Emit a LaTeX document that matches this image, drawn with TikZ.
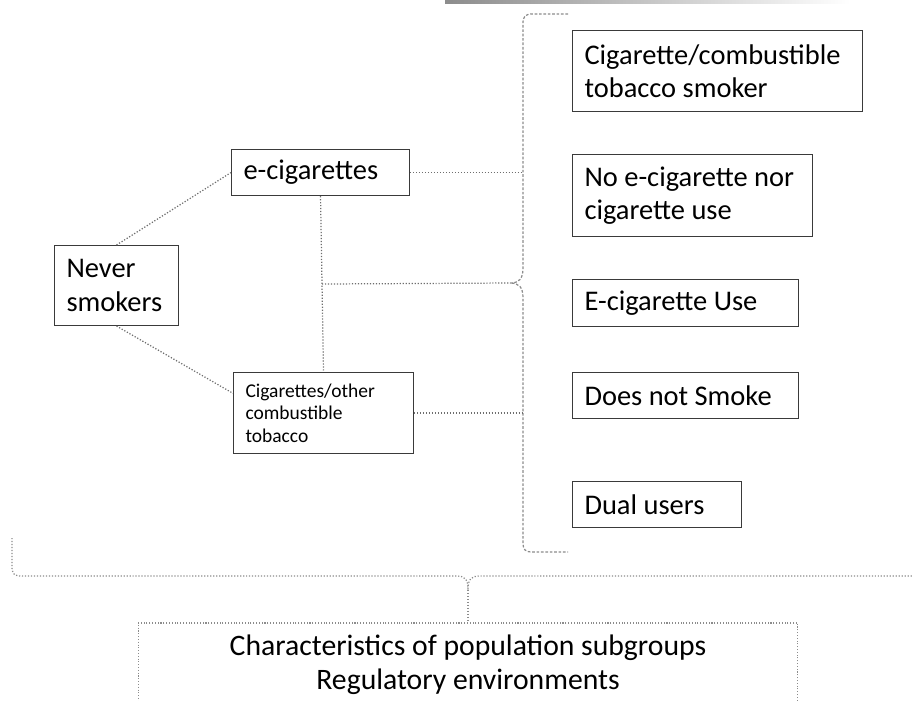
\documentclass[tikz,border=0pt]{standalone}
\usepackage{fontspec}
\setmainfont{Carlito}
\usetikzlibrary{calc}
\definecolor{linkgray}{HTML}{6E6E6E}
\definecolor{bracegray}{HTML}{8C8C8C}
\definecolor{boxline}{HTML}{3A3A3A}

\begin{document}
\begin{tikzpicture}[x=0.02cm,y=-0.02cm,
  catbox/.style={draw=boxline,line width=0.6pt,anchor=north west,align=flush left,
    inner xsep=0.24cm,inner ysep=0pt,font=\fontsize{16.2}{19}\selectfont},
  botbox/.style={draw=bracegray,densely dotted,line width=0.6pt,align=flush center,
    minimum width=13.2cm,minimum height=1.68cm,font=\fontsize{16.9}{19.3}\selectfont},
  link/.style={draw=linkgray,densely dotted,line width=0.7pt},
  bracket/.style={draw=bracegray,line width=0.7pt,dash pattern=on 1.5pt off 1pt}]
\useasboundingbox (0,0) rectangle (912,700);
\clip (0,0) rectangle (912,700);
% faded rule along the top edge
\shade[left color=black!45,right color=white] (445,0) rectangle (850,3);

% left side
\node[catbox,text width=2cm,minimum height=1.6cm] (never) at (54,245) {Never\\smokers};
\node[catbox,text width=3.08cm,minimum height=0.92cm] (ecig) at (231,149) {e-cigarettes};
\node[catbox,text width=3.12cm,minimum height=1.62cm,font=\fontsize{11.1}{12.8}\selectfont]
  (combust) at (233,372) {Cigarettes/other\\combustible\\tobacco};

% outcomes
\node[catbox,text width=5.32cm,minimum height=1.62cm] (smoker) at (572,30) {Cigarette/combustible\\tobacco smoker};
\node[catbox,text width=4.32cm,minimum height=1.64cm] (nouse) at (572,154) {No e-cigarette nor\\cigarette use};
\node[catbox,text width=4.04cm,minimum height=0.94cm] (ecuse) at (572,279) {E-cigarette Use};
\node[catbox,text width=4.04cm,minimum height=0.92cm] (nosmoke) at (572,372) {Does not Smoke};
\node[catbox,text width=2.9cm,minimum height=0.92cm] (dual) at (572,481) {Dual users};

\node[botbox] (context) at (468,665) {Characteristics of population subgroups\\Regulatory environments};

% braces
\coordinate (tip) at (510,283);
\coordinate (spine) at (523,283);
\draw[bracket] (568,14) -- (533,14) .. controls (525,14) and (523,16) .. (523,24) -- (523,268)
  .. controls (523,279) and (519,283) .. (tip) .. controls (519,283) and (523,287) .. (523,298)
  -- (523,542) .. controls (523,550) and (525,552) .. (533,552) -- (568,552);

\coordinate (btip) at (468,590);
\draw[bracket,densely dotted] (12,538) -- (12,566) .. controls (12,574) and (14,576) .. (22,576)
  -- (456,576) .. controls (465,576) and (468,579) .. (btip) .. controls (468,579) and (471,576) .. (480,576)
  -- (914,576) .. controls (922,576) and (924,574) .. (924,566) -- (924,538);
\draw[bracket,densely dotted] (btip) -- (context.north);

% connectors
\draw[link] (never.north) -- (ecig.west);
\draw[link] (never.south) -- ($(combust.north west)!.26!(combust.south west)$);
\draw[link] (ecig.south) -- (combust.north);
\draw[link] ($(ecig.south)!.5!(combust.north)$) -- (tip);
\draw[link] (ecig.east) -- (ecig.east -| spine);
\draw[link] (combust.east) -- (combust.east -| spine);
\end{tikzpicture}
\end{document}
